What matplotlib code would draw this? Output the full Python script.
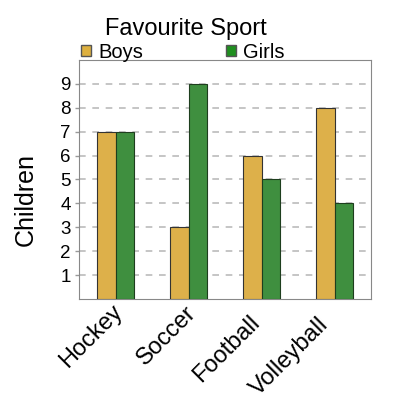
import matplotlib
matplotlib.use("Agg")
import matplotlib.pyplot as plt
import matplotlib.transforms as mtransforms
import numpy as np
from matplotlib.patches import Patch

plt.rcParams['font.family'] = ['Liberation Sans', 'DejaVu Sans']

categories = ["Hockey", "Soccer", "Football", "Volleyball"]
boys = [7, 3, 6, 8]
girls = [7, 9, 5, 4]
yticks = [1, 2, 3, 4, 5, 6, 7, 8, 9]

boys_color = "#DDB04A"
girls_color = "#3F8F3F"

# per-label nudges of the rotated tick labels (pixels, right / down)
label_nudges = [(0, -3), (0, -2), (-9, 8), (-13, 10)]

fig = plt.figure(figsize=(4, 4), dpi=100)
ax = fig.add_axes([79/400, 1-299/400, 292/400, 239/400])

x = np.arange(len(categories))
w = 0.25
ax.bar(x - w/2, boys, w, color=boys_color, edgecolor="#333333", linewidth=0.8, zorder=3)
ax.bar(x + w/2, girls, w, color=girls_color, edgecolor="#1e3e1e", linewidth=0.8, zorder=3)

ax.set_xlim(-0.5, 3.5)
ax.set_ylim(0, 10)
ax.set_yticks(yticks)
ax.set_yticklabels([str(t) for t in yticks], fontsize=13.5)
ax.set_xticks(x)
ax.set_xticklabels(categories, rotation=45, ha="right", va="center",
                   rotation_mode="anchor", fontsize=17)
ax.tick_params(axis='y', length=3, width=1, color="#999999", pad=3)
ax.tick_params(axis='x', length=0, pad=9)
for lbl, (ndx, ndy) in zip(ax.get_xticklabels(), label_nudges):
    off = mtransforms.ScaledTranslation((4 + ndx) * 0.72 / 72, -ndy * 0.72 / 72,
                                        fig.dpi_scale_trans)
    lbl.set_transform(lbl.get_transform() + off)
ax.yaxis.grid(True, linestyle=(0, (4, 4)), color="#bbbbbb", linewidth=1.2, zorder=0)
ax.set_axisbelow(True)
for s in ax.spines.values():
    s.set_color("#888888")

fig.text(26/400, 1-199/400, "Children", rotation=90, ha="center", va="center", fontsize=18)
fig.text(186/400, 1-29/400, "Favourite Sport", ha="center", va="center", fontsize=17)
handles = [Patch(facecolor="#DDB03F", edgecolor="#555555", label="Boys"),
           Patch(facecolor="#1f8f1f", edgecolor="#555555", label="Girls")]
ax.legend(handles=handles, loc="lower left", bbox_to_anchor=(0.0, 0.985), ncol=2,
          frameon=False, fontsize=14.5, handlelength=0.5, handleheight=0.5,
          handletextpad=0.35, columnspacing=4.1, borderpad=0, borderaxespad=0.1)

fig.savefig("out.png", dpi=100)
